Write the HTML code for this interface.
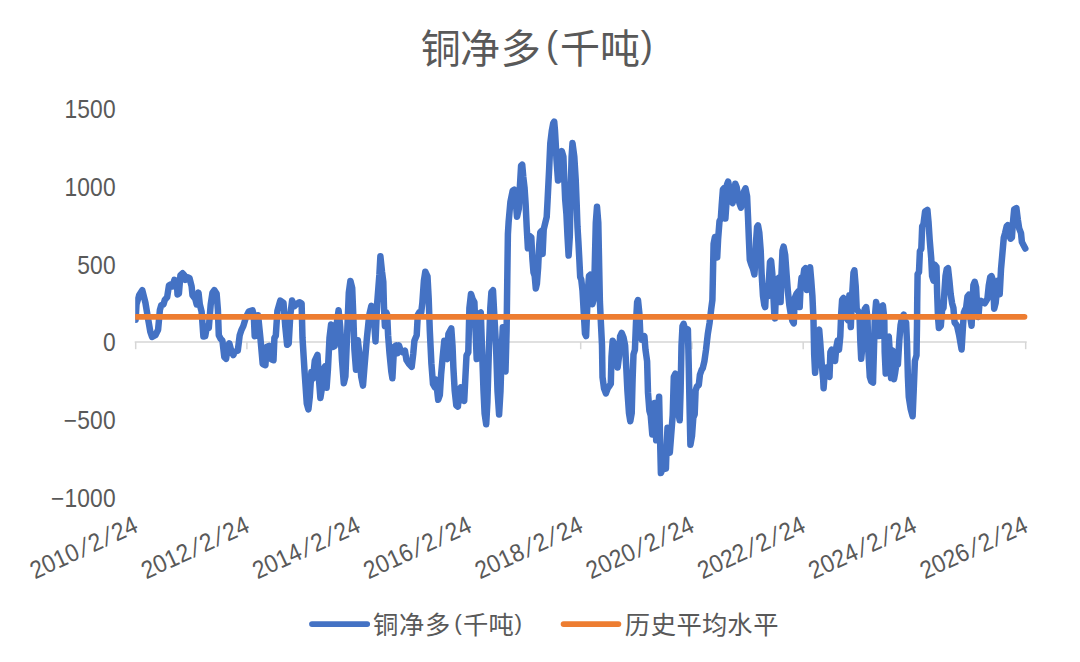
<!DOCTYPE html>
<html lang="zh-CN"><head><meta charset="utf-8"><title>铜净多(千吨)</title>
<style>html,body{margin:0;padding:0;background:#fff}body{width:1080px;height:662px;overflow:hidden}svg{display:block}</style>
</head><body>
<svg width="1080" height="662" viewBox="0 0 1080 662">
<rect width="1080" height="662" fill="#fff"/>
<g stroke="#D6D6D6" stroke-width="1.5" fill="none">
<path d="M134.7 342.0 H1026.7"/>
<path d="M135.7 342.0 V349.2"/>
<path d="M246.9 342.0 V349.2"/>
<path d="M358.2 342.0 V349.2"/>
<path d="M469.4 342.0 V349.2"/>
<path d="M580.7 342.0 V349.2"/>
<path d="M692.0 342.0 V349.2"/>
<path d="M803.2 342.0 V349.2"/>
<path d="M914.5 342.0 V349.2"/>
<path d="M1025.7 342.0 V349.2"/>
</g>
<clipPath id="pa"><rect x="135.2" y="90" width="900" height="420"/></clipPath>
<g clip-path="url(#pa)">
<path d="M135.6 319.8 L136.5 304.4 L139.1 295.3 L142.3 290.2 L145.4 302.6 L148.1 318.9 L150.3 331.6 L152.1 337 L155.4 335.2 L158.1 329.8 L159.9 309.8 L161.2 305.3 L163.5 304.4 L164.8 299.8 L167.2 297.1 L169 285.3 L170.8 284.4 L172.6 286.3 L174.4 279.9 L176.8 281.2 L177.5 294.4 L178.9 293.5 L180.4 275.4 L182.6 273.2 L184.4 275.4 L185.3 279.9 L187.6 277.2 L189.5 278.1 L191.6 286.3 L192.5 295.3 L195.3 298.9 L196.7 304.4 L198.5 292.6 L199.8 304.4 L201.6 311.6 L203.4 336.6 L205.2 336.1 L207 326.1 L208.8 327.9 L210.7 304.4 L212.5 292.6 L214.3 290.2 L216.6 293.5 L217.9 309.8 L218.8 335.2 L220.6 338.8 L222.4 340.6 L224.3 356.9 L226.1 358.8 L227.9 346.1 L229.3 343.3 L231.5 351.5 L233.3 355.1 L235.1 351.5 L237.8 350.6 L239.7 335.2 L241.5 329.8 L243.3 326.1 L246 317.1 L248.7 311.6 L252.5 310.3 L253.8 315.3 L254.7 336.2 L256.3 335.7 L258.1 315.3 L260.4 338 L262.7 364 L265.4 365.2 L266.7 347 L269 345.9 L271.7 359.5 L273.5 360.2 L274.4 338 L275.8 335.7 L277.4 310.8 L280.3 300.6 L283.5 302.9 L285.3 326.7 L287.1 344.8 L288.7 343.6 L290.3 315.3 L292.1 300.6 L294.4 306.3 L296.7 304 L299.4 302.2 L301.6 303.3 L302.5 338 L304.6 372 L306.8 403.7 L308.4 409.4 L309.8 396.9 L311.4 372 L313 378.8 L314.8 360.6 L317.5 355 L318.9 378.8 L320.4 398 L322 387.8 L323.4 369.7 L325 366.3 L326.6 387.8 L327.9 369.7 L329.5 338 L331.1 324.4 L332.9 347 L334.7 345.9 L336.3 326.7 L338.6 310.3 L340.2 326.7 L342 360.6 L343.8 383.3 L345.4 376.5 L347 338 L348.8 292.7 L350.4 280.9 L352.2 288.1 L353.3 315.3 L354.4 349.3 L356 369.7 L357.8 340.2 L359.6 356.1 L361.2 376.5 L363 385.6 L364.6 365.2 L366.9 338 L369.2 315.3 L371.4 305.8 L373.7 315.3 L375.5 341.4 L377.1 304 L379.4 274.5 L380.4 256.3 L382 271.7 L383.3 281.9 L384 308 L384.9 326.1 L386.3 312.5 L387.2 314.8 L388.1 335.2 L389.5 353.3 L391.3 371.4 L392.4 378.2 L393.5 357.8 L394.4 346.5 L396.3 345.4 L397.4 353.3 L399 345.4 L400.8 351 L402.6 352.2 L404.9 350.6 L406.5 360.1 L408.7 363.5 L411.7 366.9 L413.3 353.3 L414.4 340.8 L416.7 335.2 L417.8 314.8 L419.4 312.1 L421.2 312.5 L422.3 303.4 L423.9 280.8 L425.3 271.7 L427.5 276.3 L428.7 298.9 L429.8 330.6 L431.4 363.5 L433 383.9 L434.8 387.3 L435.9 379.4 L438.2 399.8 L439.8 395.2 L441.1 374.8 L442.7 356.7 L444.3 340.8 L445.7 357.8 L447.2 359 L448.4 334 L451.3 328.4 L452.5 345.4 L453.4 368 L454.7 390.7 L456.3 405.4 L457.9 406.6 L459.3 390.7 L460.8 387.3 L462.4 399.8 L464.2 400.9 L465.4 377.1 L466.5 355.6 L468.3 352.2 L469.4 308 L471 293.9 L472.6 298.9 L474.4 302.3 L475.6 331.8 L476.7 359 L477.8 336.3 L479 313.6 L480.8 312.5 L481.9 345.4 L483.5 390.7 L484.6 413.4 L486.2 424.2 L487.4 402 L488.7 356.7 L490.3 308 L491.4 292.1 L493 290.3 L494.1 311.4 L496 345.4 L497.5 390.7 L499.1 414.5 L500.5 390.7 L501.9 345.4 L502.8 327.2 L504.1 349.9 L505.5 371.4 L506.6 330.6 L507.5 262.7 L507.9 234 L508.6 222.4 L510.4 202 L512.7 190.7 L514.3 189.6 L515.8 202 L517 216.8 L518.8 208.8 L519.9 186.2 L521.1 165.8 L522.2 164.6 L523.3 177.1 L524.5 187.3 L525.6 203.4 L526.7 227.2 L527.9 248.3 L529 244.2 L530.1 236.3 L531.3 237.4 L532.4 258.9 L533.5 272.5 L534.7 275.9 L535.8 288.4 L536.9 283.8 L538.1 268 L539.2 245.3 L540.3 232.2 L541.5 231 L542.6 253.9 L543.7 229.5 L545.3 222.7 L546.7 217 L547.6 200 L549.2 168 L550.3 143.1 L551.8 130.9 L553.2 123.4 L554.2 121.6 L555 130.9 L555.8 144.9 L556.5 160.1 L558 180.5 L559.6 179.4 L560.3 159 L561.8 151.1 L563.4 156.7 L564.3 179.4 L565.2 199.8 L566.4 213.6 L567.5 236.3 L568.6 255.5 L569.8 236.3 L570.7 190.9 L571.6 156.9 L572.5 143.1 L574.3 156.7 L575.7 179.4 L576.6 202 L577.5 227 L578.4 241.9 L579.3 258.9 L580.2 277 L581.3 279.8 L582.5 290.6 L583.8 313.3 L585 333.7 L586.1 336 L587 313.3 L587.9 290.6 L589 275.9 L590.2 274.8 L591.3 290.6 L592.4 304.2 L593.6 299.7 L594.7 268 L595.8 222.7 L597 206.8 L598.3 222.7 L599.2 268 L599.9 302 L601.1 326.9 L602 345 L602.5 377 L604 388.4 L605.9 393.4 L607.7 388.4 L609.3 386.1 L610.8 383.8 L611.5 356.7 L612.7 340.8 L614.5 344.2 L616.1 354.4 L617.6 367.5 L619 356.7 L620.1 336.3 L621.7 332.9 L623.5 337.4 L625.1 345.3 L626.3 368 L627.4 390.6 L629 413.3 L630.3 421.2 L631.7 413.3 L632.6 379.3 L633.5 354.4 L634.9 349.9 L636 322.7 L637.1 302.3 L638 300 L639.4 313.6 L640.3 334 L641.7 339.7 L643.3 337.4 L644.4 336.3 L645.5 349.9 L647.1 361.2 L648 392.7 L649.4 410.8 L650.7 415.3 L652.3 434.6 L653.4 417.8 L654.6 402.9 L655.5 417.8 L656.2 440.3 L657.3 417.8 L659.1 396.8 L660 436 L660.9 473.1 L662.5 468.8 L664.3 465.4 L665.9 468.6 L666.6 447.3 L667.5 427.8 L668.6 440.5 L669.8 452.7 L671.1 436 L672.7 415.3 L673.8 377 L675.4 373.6 L676.8 390.6 L678.4 413.3 L679.7 420.3 L680.6 390.6 L681.5 345.3 L682.5 326.1 L683.6 323.8 L685.2 329.5 L687 330.6 L687.9 329.5 L688.8 368 L689.7 413.3 L690.4 444.8 L692 436 L693.3 417.8 L694.7 414.2 L695.6 390.6 L697 386.3 L698.8 385 L699.9 374.8 L701.5 370.2 L702.8 368 L704.4 361.2 L706 349.9 L707.8 334 L709.6 322.7 L711.2 309.1 L712.4 300 L713.6 243.8 L714.9 237 L716.3 237.5 L717.2 257.4 L718.1 239.3 L719.5 221.2 L720.8 218.9 L721.7 205.3 L722.9 189.5 L724 188.3 L725.4 218.5 L726.3 205.3 L726.9 184.9 L728.1 181.5 L729.7 189.5 L731.2 200.8 L732.6 203.1 L734 194 L735.3 183.8 L736.7 187.2 L738 196.3 L739.4 203.1 L741 207.6 L742.6 200.8 L743.9 191.7 L745.5 188.3 L747.1 196.3 L748 216.7 L748.9 239.3 L749.8 259.7 L751.2 264.2 L753 268.8 L754.4 274.4 L755.3 262 L756.2 239.3 L757.1 226.8 L758 225.3 L759.3 232.5 L760.7 250.6 L761.6 273.3 L763 296 L764.3 305 L765.2 307.1 L766.1 289.2 L767 285.8 L768.2 296 L769.3 273.3 L770 262 L771.1 260.8 L772.3 273.3 L773.4 296 L774.3 314.1 L775 318.4 L776.1 286.9 L777.2 279 L778.8 277.8 L780 296 L780.6 302.1 L781.5 273.3 L782.5 250.6 L783.6 246.6 L785.2 255.2 L786.5 273.3 L787.9 291.4 L789.3 305 L790.8 314.1 L792.4 320.9 L793.8 323.4 L794.7 298.2 L796.5 293.7 L798.3 291.4 L799.7 307.1 L800.6 286.9 L801.5 277.8 L802.8 280.1 L804.2 269.7 L805.6 268.1 L806.9 290.1 L808.3 289.2 L809.2 269.7 L810.1 267.4 L811.2 279.9 L812.4 296 L813.5 320.7 L814.2 354.7 L815.1 372.8 L816.4 356.9 L817.8 332 L819.2 329.7 L820.3 343.3 L821.9 366 L823.2 380 L823.6 388.2 L824.9 370.1 L826.7 367.8 L828.3 375.8 L829.5 376.9 L830.4 352 L831.7 349.7 L833.5 350.8 L835.1 361 L836.3 347.4 L837.6 340.6 L839 349.7 L840.3 336.1 L841.2 313.4 L842.1 299.9 L843.5 298 L844.9 308.9 L846.5 318 L848 320.2 L849.4 295.3 L850.8 327 L852.1 295.3 L853.5 272.7 L854.4 270.4 L855.7 286.3 L856.7 308.9 L858 311.2 L859.4 312.3 L860.3 340.6 L861.2 358.8 L862.5 345.2 L863.4 324.8 L864.8 308.9 L866.2 307.1 L867.5 318 L868.4 352 L869.8 376.9 L871.2 381.4 L873 382.6 L873.9 352 L874.8 318 L876.1 302.1 L877.5 308.9 L878.9 336.1 L879.8 318 L881.1 306.7 L882.9 305.5 L884.3 318 L884.7 352 L885.7 373.5 L886.6 352 L887.5 337.2 L888.8 336.6 L890.2 358.8 L891.1 378 L892 352 L892.9 350.8 L894 379.2 L895.2 372.4 L896.5 363.3 L897.9 364.4 L899.3 340.6 L900.6 324.8 L902 318 L903.8 314.6 L905.1 324.8 L906.1 322.5 L907 342.7 L907.9 376.9 L908.8 397.1 L910.6 408.6 L912.6 416.3 L913.8 388.2 L914.9 360.8 L916.5 355.4 L917 326 L917.2 303.3 L917.6 274.3 L919 272 L919.9 251.2 L921.3 248.9 L922.2 226.3 L923.5 224 L925.1 211.5 L927.4 209.9 L928.5 221.7 L929.7 239.9 L931.2 258 L932.1 276.1 L933.5 280.6 L934.9 264.8 L936.5 267 L937.1 292 L938 316.9 L938.9 328 L940.8 326 L942.1 310.1 L943.5 307.8 L944.4 292 L945.5 276.1 L946.7 269.3 L948 268.2 L949.4 280.6 L950.7 294.2 L952.1 303.3 L953.4 307.8 L954.6 322.6 L955.7 323.7 L957.1 326 L959.1 335 L961.6 349.5 L963 326 L963.9 312.4 L964.8 310.1 L966.1 307.8 L967.5 296.5 L968.9 294.7 L970.2 316.9 L971.6 325.7 L972.5 303.3 L973.4 285.2 L974.7 281.8 L976.1 287.4 L977 303.3 L978.4 316.9 L979.5 303.3 L981.1 301 L982.9 302.2 L984.7 303.3 L986.1 301 L987.4 298.8 L988.8 285.2 L990.2 277.2 L991.5 276.1 L993.1 280.6 L994.2 308.7 L995.6 303.3 L997 289.7 L998.3 280.6 L999.7 294.2 L1001 269.3 L1002.4 253.4 L1003.8 237.6 L1005.1 233.1 L1006.7 226.3 L1007.8 225.1 L1009.2 235.3 L1010.6 238.7 L1011.9 237.6 L1012.8 224 L1014.2 209.3 L1016.4 208.1 L1017.8 219.5 L1019.2 228.5 L1021 233.1 L1021.9 242.1 L1023.7 245.5 L1025.3 248.5" fill="none" stroke="#4472C4" stroke-width="6.5" stroke-linejoin="round" stroke-linecap="round"/>
<path d="M135 316.8 H1024.5" fill="none" stroke="#ED7D31" stroke-width="5.7" stroke-linecap="round"/>
</g>
<text transform="translate(115.8 118.0) scale(0.912 1)" text-anchor="end" letter-spacing="0.19" font-family="'Liberation Sans', sans-serif" font-size="25.0" fill="#595959">1500</text>
<text transform="translate(115.8 195.7) scale(0.912 1)" text-anchor="end" letter-spacing="0.19" font-family="'Liberation Sans', sans-serif" font-size="25.0" fill="#595959">1000</text>
<text transform="translate(115.8 273.5) scale(0.912 1)" text-anchor="end" letter-spacing="0.19" font-family="'Liberation Sans', sans-serif" font-size="25.0" fill="#595959">500</text>
<text transform="translate(115.8 351.2) scale(0.912 1)" text-anchor="end" letter-spacing="0.19" font-family="'Liberation Sans', sans-serif" font-size="25.0" fill="#595959">0</text>
<text transform="translate(115.8 429.0) scale(0.912 1)" text-anchor="end" letter-spacing="0.19" font-family="'Liberation Sans', sans-serif" font-size="25.0" fill="#595959">−500</text>
<text transform="translate(115.8 506.7) scale(0.912 1)" text-anchor="end" letter-spacing="0.19" font-family="'Liberation Sans', sans-serif" font-size="25.0" fill="#595959">−1000</text>
<g transform="translate(34.9 579.5) rotate(-24.85)" font-family="'Liberation Sans', sans-serif" font-size="25.0" fill="#595959"><text transform="scale(0.912 1)" y="0"><tspan x="0.00 14.08 28.16 42.24">2010</tspan><tspan x="70.39">2</tspan><tspan x="98.55 112.63">24</tspan></text><text transform="translate(52.05 0) skewX(-16.6) scale(0.912 1)">/</text><text transform="translate(77.73 0) skewX(-16.6) scale(0.912 1)">/</text></g>
<g transform="translate(146.2 579.5) rotate(-24.85)" font-family="'Liberation Sans', sans-serif" font-size="25.0" fill="#595959"><text transform="scale(0.912 1)" y="0"><tspan x="0.00 14.08 28.16 42.24">2012</tspan><tspan x="70.39">2</tspan><tspan x="98.55 112.63">24</tspan></text><text transform="translate(52.05 0) skewX(-16.6) scale(0.912 1)">/</text><text transform="translate(77.73 0) skewX(-16.6) scale(0.912 1)">/</text></g>
<g transform="translate(257.4 579.5) rotate(-24.85)" font-family="'Liberation Sans', sans-serif" font-size="25.0" fill="#595959"><text transform="scale(0.912 1)" y="0"><tspan x="0.00 14.08 28.16 42.24">2014</tspan><tspan x="70.39">2</tspan><tspan x="98.55 112.63">24</tspan></text><text transform="translate(52.05 0) skewX(-16.6) scale(0.912 1)">/</text><text transform="translate(77.73 0) skewX(-16.6) scale(0.912 1)">/</text></g>
<g transform="translate(368.6 579.5) rotate(-24.85)" font-family="'Liberation Sans', sans-serif" font-size="25.0" fill="#595959"><text transform="scale(0.912 1)" y="0"><tspan x="0.00 14.08 28.16 42.24">2016</tspan><tspan x="70.39">2</tspan><tspan x="98.55 112.63">24</tspan></text><text transform="translate(52.05 0) skewX(-16.6) scale(0.912 1)">/</text><text transform="translate(77.73 0) skewX(-16.6) scale(0.912 1)">/</text></g>
<g transform="translate(479.9 579.5) rotate(-24.85)" font-family="'Liberation Sans', sans-serif" font-size="25.0" fill="#595959"><text transform="scale(0.912 1)" y="0"><tspan x="0.00 14.08 28.16 42.24">2018</tspan><tspan x="70.39">2</tspan><tspan x="98.55 112.63">24</tspan></text><text transform="translate(52.05 0) skewX(-16.6) scale(0.912 1)">/</text><text transform="translate(77.73 0) skewX(-16.6) scale(0.912 1)">/</text></g>
<g transform="translate(591.1 579.5) rotate(-24.85)" font-family="'Liberation Sans', sans-serif" font-size="25.0" fill="#595959"><text transform="scale(0.912 1)" y="0"><tspan x="0.00 14.08 28.16 42.24">2020</tspan><tspan x="70.39">2</tspan><tspan x="98.55 112.63">24</tspan></text><text transform="translate(52.05 0) skewX(-16.6) scale(0.912 1)">/</text><text transform="translate(77.73 0) skewX(-16.6) scale(0.912 1)">/</text></g>
<g transform="translate(702.4 579.5) rotate(-24.85)" font-family="'Liberation Sans', sans-serif" font-size="25.0" fill="#595959"><text transform="scale(0.912 1)" y="0"><tspan x="0.00 14.08 28.16 42.24">2022</tspan><tspan x="70.39">2</tspan><tspan x="98.55 112.63">24</tspan></text><text transform="translate(52.05 0) skewX(-16.6) scale(0.912 1)">/</text><text transform="translate(77.73 0) skewX(-16.6) scale(0.912 1)">/</text></g>
<g transform="translate(813.6 579.5) rotate(-24.85)" font-family="'Liberation Sans', sans-serif" font-size="25.0" fill="#595959"><text transform="scale(0.912 1)" y="0"><tspan x="0.00 14.08 28.16 42.24">2024</tspan><tspan x="70.39">2</tspan><tspan x="98.55 112.63">24</tspan></text><text transform="translate(52.05 0) skewX(-16.6) scale(0.912 1)">/</text><text transform="translate(77.73 0) skewX(-16.6) scale(0.912 1)">/</text></g>
<g transform="translate(924.9 579.5) rotate(-24.85)" font-family="'Liberation Sans', sans-serif" font-size="25.0" fill="#595959"><text transform="scale(0.912 1)" y="0"><tspan x="0.00 14.08 28.16 42.24">2026</tspan><tspan x="70.39">2</tspan><tspan x="98.55 112.63">24</tspan></text><text transform="translate(52.05 0) skewX(-16.6) scale(0.912 1)">/</text><text transform="translate(77.73 0) skewX(-16.6) scale(0.912 1)">/</text></g>
<text font-family="'Liberation Sans', 'Noto Sans CJK SC', sans-serif" font-size="40" font-weight="400" fill="#595959"><tspan x="420.7" y="63.1">铜</tspan><tspan x="460.0" y="63.1">净</tspan><tspan x="500.8" y="63.1">多</tspan><tspan x="546.0" y="57.0" font-size="36.2">(</tspan><tspan x="560.0" y="63.1">千</tspan><tspan x="600.0" y="63.1">吨</tspan><tspan x="640.8" y="57.0" font-size="36.2">)</tspan></text>
<path d="M312.0 624.1 H367.2" stroke="#4472C4" stroke-width="5.8" stroke-linecap="round"/>
<text font-family="'Liberation Sans', 'Noto Sans CJK SC', sans-serif" font-size="25.3" font-weight="400" fill="#595959"><tspan x="373.0" y="633.6">铜</tspan><tspan x="399.0" y="633.6">净</tspan><tspan x="425.0" y="633.6">多</tspan><tspan x="454.3" y="630.2" font-size="22.7">(</tspan><tspan x="463.0" y="633.6">千</tspan><tspan x="488.6" y="633.6">吨</tspan><tspan x="514.5" y="630.2" font-size="22.7">)</tspan></text>
<path d="M563.6 624.1 H618.4" stroke="#ED7D31" stroke-width="5.8" stroke-linecap="round"/>
<text font-family="'Liberation Sans', 'Noto Sans CJK SC', sans-serif" font-size="25.3" font-weight="400" fill="#595959"><tspan x="624.8" y="633.6">历</tspan><tspan x="650.7" y="633.6">史</tspan><tspan x="676.5" y="633.6">平</tspan><tspan x="702.0" y="633.6">均</tspan><tspan x="727.3" y="633.6">水</tspan><tspan x="753.2" y="633.6">平</tspan></text>
</svg>
</body></html>
